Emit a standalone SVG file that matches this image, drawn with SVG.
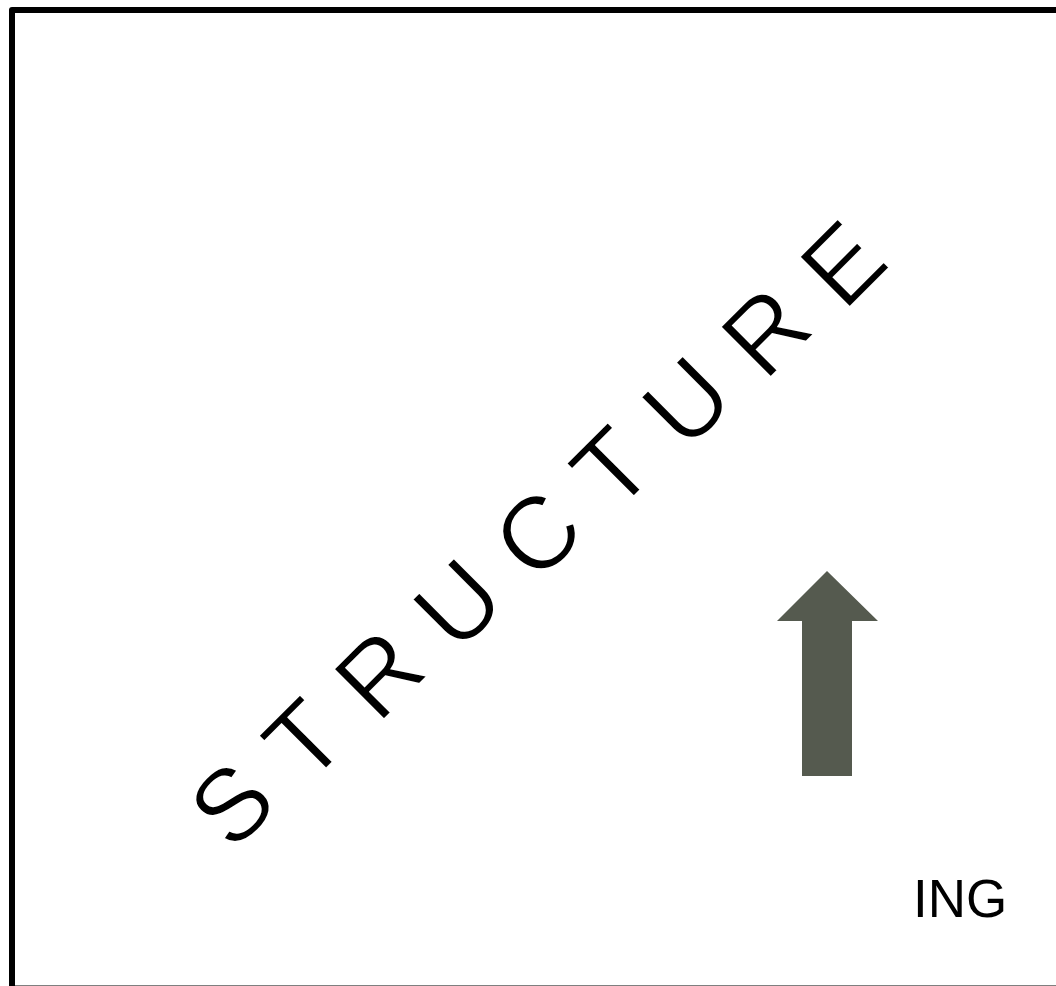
<svg xmlns="http://www.w3.org/2000/svg" width="1056" height="986" viewBox="0 0 1056 986">
  <style>
    .frame { fill: none; stroke: #000; stroke-width: 6; stroke-linejoin: round; }
    .word { font-family: "Liberation Sans", Arial, sans-serif; font-size: 103px; fill: #000; stroke: #fff; stroke-width: 1.6px; text-anchor: middle; }
    .label { font-family: "Liberation Sans", Arial, sans-serif; font-size: 53px; fill: #000; }
    .arrow { fill: #555a4f; }
  </style>
  <rect width="1056" height="986" fill="#fff"/>
  <g id="frame">
    <rect class="frame" x="12" y="10" width="1100" height="978.5"/>
  </g>
  <g id="structure" transform="rotate(-45)">
    <text class="word" x="-405" y="768.2">S</text>
    <text class="word" x="-308" y="774.1">T</text>
    <text class="word" x="-208.4" y="780.2">R</text>
    <text class="word" x="-103" y="786.6">U</text>
    <text class="word" x="2.4" y="793.1">C</text>
    <text class="word" x="102" y="799.2">T</text>
    <text class="word" x="201.7" y="805.2">U</text>
    <text class="word" x="307.1" y="811.7">R</text>
    <text class="word" x="409.6" y="817.9">E</text>
  </g>
  <g id="up-arrow">
    <polygon class="arrow" points="827,571 878,621 852,621 852,776 802,776 802,621 777,621"/>
  </g>
  <g id="ing">
    <text class="label" x="913" y="917">ING</text>
  </g>
</svg>
